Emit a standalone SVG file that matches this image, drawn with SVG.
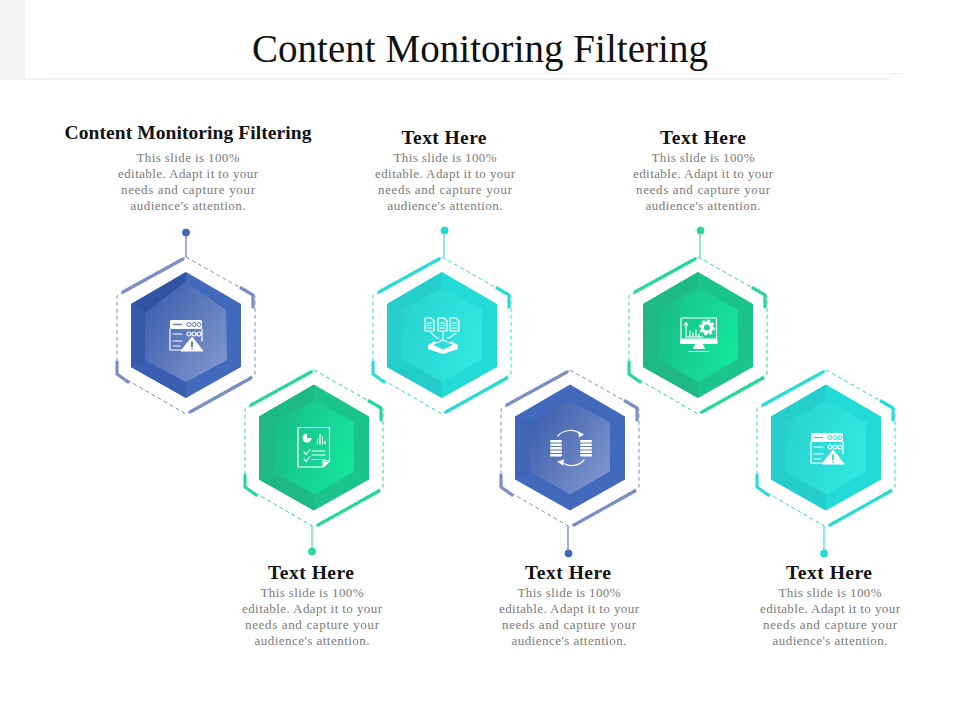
<svg xmlns="http://www.w3.org/2000/svg" width="960" height="720" viewBox="0 0 960 720">
<style>
text{font-family:"Liberation Serif","Times New Roman",serif}
.title{font-size:39px;fill:#111;text-anchor:middle}
.head{font-size:19.500px;font-weight:bold;fill:#111;text-anchor:middle}
.body{font-size:13px;fill:#7a7a7a;text-anchor:middle}
.blue{color:#7b8fc6}
.green{color:#28d79b}
.teal{color:#2bdcd6}
.pinb{stroke:#3f66b8;fill:#3f66b8}
.ping{stroke:#25d8a0;fill:#25d8a0}
.pint{stroke:#22d9d3;fill:#22d9d3}
.pin{stroke-width:1}
.i{fill:none;stroke:#fff;stroke-width:1.2;stroke-linecap:round;stroke-linejoin:round}
.f{fill:#fff}
</style>
<defs>
<linearGradient id="faceBlue" x1="0" y1="0.1" x2="1" y2="0.9"><stop offset="0" stop-color="#3a5dac"/><stop offset="1" stop-color="#8297cf"/></linearGradient>
<linearGradient id="faceGreen" x1="0" y1="0.3" x2="1" y2="0.6"><stop offset="0" stop-color="#19bc88"/><stop offset="1" stop-color="#13e69b"/></linearGradient>
<linearGradient id="faceTeal" x1="0" y1="0.3" x2="1" y2="0.6"><stop offset="0" stop-color="#28d2cf"/><stop offset="1" stop-color="#31e8e1"/></linearGradient>
<g id="ring" fill="none" stroke="currentColor">
<polygon points="0,-78 69,-39 69,39 0,79 -69,39 -69,-39" stroke-width="1" stroke-dasharray="4 3"/>
<g stroke-width="3.200" stroke-linecap="round" stroke-linejoin="round">
<path d="M-63,-43L-3,-76"/>
<path d="M55,-47L67,-40V-28"/>
<path d="M-69,27V39L-58,47"/>
<path d="M4,77L65,43"/>
</g>
</g>
<g id="bodyBlue">
<polygon points="0,-63 55,-31 55,32 0,63 -55,32 -55,-31" fill="#4169bc"/>
<polygon points="-55,-31 -40,-25 -40,24 -55,32" fill="#4066b8"/>
<polygon points="0,-47 40,-25 40,24 0,47 -40,24 -40,-25" fill="url(#faceBlue)"/>
</g>
<g id="bodyBlueA">
<polygon points="0,-63 55,-31 55,32 0,63 -55,32 -55,-31" fill="#4169bc"/>
<polygon points="0,-63 0,-53 -41,-22 -55,-31" fill="#3254a4"/>
<polygon points="-55,-31 -41,-22 -41,25 -55,32" fill="#3659a9"/>
<polygon points="-55,32 -41,25 0,47 0,63" fill="#3a5eb0"/>
<polygon points="0,-53 40,-25 41,25 0,47 -41,25 -41,-22" fill="url(#faceBlue)"/>
</g>
<g id="bodyGreen">
<polygon points="0,-63 55,-31 55,32 0,63 -55,32 -55,-31" fill="#1bc48c"/>
<polygon points="0,-63 0,-47 -40,-25 -55,-31" fill="#1cba87"/>
<polygon points="-55,-31 -40,-25 -40,24 -55,32" fill="#1bb986"/>
<polygon points="-55,32 -40,24 0,47 0,63" fill="#1db886"/>
<polygon points="0,-47 40,-25 40,24 0,47 -40,24 -40,-25" fill="url(#faceGreen)"/>
</g>
<g id="bodyTeal">
<polygon points="0,-63 55,-31 55,32 0,63 -55,32 -55,-31" fill="#22dad6"/>
<polygon points="0,-63 0,-47 -40,-25 -55,-31" fill="#23cecb"/>
<polygon points="-55,-31 -40,-25 -40,24 -55,32" fill="#25cfcc"/>
<polygon points="-55,32 -40,24 0,47 0,63" fill="#22cdca"/>
<polygon points="0,-47 40,-25 40,24 0,47 -40,24 -40,-25" fill="url(#faceTeal)"/>
</g>
<g id="iconServer">
<rect x="-16" y="-15" width="32" height="9" rx="1.5" class="f"/>
<path d="M-13,-10.500H-4" stroke="currentColor" stroke-width="1.300"/>
<g fill="none" stroke="currentColor" stroke-width="1"><circle cx="3" cy="-10.500" r="2"/><circle cx="8" cy="-10.500" r="2"/><circle cx="13" cy="-10.500" r="2"/></g>
<path class="i" d="M16,6V-6M-16,-6V15H-3M-13,-1H-4M-13,6H-4M-13,11H-6"/>
<g class="i"><circle cx="3" cy="-1" r="2"/><circle cx="8" cy="-1" r="2"/><circle cx="13" cy="-1" r="2"/></g>
<polygon points="6,2 -5,16 17,16" class="f" stroke="#fff" stroke-linejoin="round"/>
<path d="M6,6.500V12M6,13.500V14.500" stroke="currentColor" stroke-width="2"/>
</g>
</defs>

<g id="header">
<rect x="0" y="0" width="25" height="80" fill="#f2f2f2"/>
<path d="M25,79H890" stroke="#eeeeee" stroke-width="1.500"/>
<path d="M45,73.500H903" stroke="#f1f1f1" stroke-width="1"/>
<text class="title" x="480" y="62" textLength="456" lengthAdjust="spacing">Content Monitoring Filtering</text>
</g>

<g id="connectors">
<g class="pinb pin"><line x1="186" y1="232" x2="186" y2="257"/><circle cx="186" cy="232.500" r="3.500"/></g>
<g class="pint pin"><line x1="444" y1="230" x2="444" y2="257"/><circle cx="444.500" cy="230.500" r="3.500"/></g>
<g class="ping pin"><line x1="700" y1="230" x2="700" y2="257"/><circle cx="700.500" cy="230.500" r="3.500"/></g>
<g class="ping pin"><line x1="312" y1="526" x2="312" y2="551"/><circle cx="312" cy="551.500" r="3.500"/></g>
<g class="pinb pin"><line x1="568" y1="526" x2="568" y2="553"/><circle cx="568.500" cy="553.500" r="3.500"/></g>
<g class="pint pin"><line x1="824" y1="526" x2="824" y2="553"/><circle cx="824" cy="553.500" r="3.500"/></g>
</g>

<g id="node1">
<use href="#ring" x="186" y="335" class="blue"/>
<use href="#bodyBlueA" x="186" y="335"/>
<use href="#iconServer" x="186" y="335" style="color:#5d79bc"/>
<text class="head" x="188" y="139" textLength="247" lengthAdjust="spacing">Content Monitoring Filtering</text>
<text class="body" x="188" y="162" textLength="103">This slide is 100%</text>
<text class="body" x="188" y="178" textLength="140">editable.  Adapt  it to your</text>
<text class="body" x="188" y="194" textLength="134">needs and  capture  your</text>
<text class="body" x="188" y="210" textLength="115">audience's  attention.</text>
</g>

<g id="node2">
<use href="#ring" x="314" y="448" class="green"/>
<use href="#bodyGreen" x="314" y="447.500"/>
<g id="iconReport">
<path class="i" d="M298,427.500H329.500V461L323,467H298ZM323,467V461H329.500"/>
<path d="M324,467V462H329Z" class="f"/>
<path d="M307,433.500A4.500,4.500 0 1 0 311.500,438H307Z" class="f"/>
<path class="i" d="M317.500,444V439M320,444V434M322.500,444V437M325,444V441"/>
<path class="i" stroke-width="1.500" d="M304,452L306,454.500L310,449.500M304,459L306,461.500L310,456.500M312,451H325M312,455H325M312,459.500H325"/>
</g>
<text class="head" x="311" y="579" textLength="86" lengthAdjust="spacing">Text Here</text>
<text class="body" x="312" y="597" textLength="103">This slide is 100%</text>
<text class="body" x="312" y="613" textLength="140">editable.  Adapt  it to your</text>
<text class="body" x="312" y="629" textLength="134">needs and  capture  your</text>
<text class="body" x="312" y="645" textLength="115">audience's  attention.</text>
</g>

<g id="node3">
<use href="#ring" x="442" y="335" class="teal"/>
<use href="#bodyTeal" x="442" y="335"/>
<g id="iconDocs">
<path class="i" d="M425,318H431L434,321V331H425ZM427,323H432M427,325.500H432M427,328H432"/>
<path class="i" d="M438,318H444L447,321V331H438ZM440,323H445M440,325.500H445M440,328H445"/>
<path class="i" d="M450,318H456L459,321V331H450ZM452,323H457M452,325.500H457M452,328H457"/>
<path class="i" d="M431,333L437,338H439M443,332V343M440.500,341L443,343.500L445.500,341M456,333L449,338H447"/>
<path class="f" d="M428,345L434,341.500L443,346L452,341.500L458,345V349L443,354L428,349Z"/>
<path d="M432,345L443,340L454,345L443,350Z" fill="#2fdcd7" stroke="#fff" stroke-width="1"/>
</g>
<text class="head" x="444" y="144" textLength="85" lengthAdjust="spacing">Text Here</text>
<text class="body" x="445" y="162" textLength="103">This slide is 100%</text>
<text class="body" x="445" y="178" textLength="140">editable.  Adapt  it to your</text>
<text class="body" x="445" y="194" textLength="134">needs and  capture  your</text>
<text class="body" x="445" y="210" textLength="115">audience's  attention.</text>
</g>

<g id="node4">
<use href="#ring" x="570" y="448" class="blue"/>
<use href="#bodyBlue" x="570" y="447.500"/>
<g id="iconSync">
<g class="f">
<rect x="550" y="440" width="12" height="2.500" rx="1.200"/><rect x="550" y="443.500" width="12" height="2.500" rx="1.200"/><rect x="550" y="447" width="12" height="2.500" rx="1.200"/><rect x="550" y="450.500" width="12" height="2.500" rx="1.200"/><rect x="550" y="454" width="12" height="2.500" rx="1.200"/>
<rect x="580" y="440" width="12" height="2.500" rx="1.200"/><rect x="580" y="443.500" width="12" height="2.500" rx="1.200"/><rect x="580" y="447" width="12" height="2.500" rx="1.200"/><rect x="580" y="450.500" width="12" height="2.500" rx="1.200"/><rect x="580" y="454" width="12" height="2.500" rx="1.200"/>
</g>
<path class="i" stroke-width="1.600" d="M558,436C564,429 574,429 581,434"/>
<path class="f" d="M578,431.500L584,434.500L579,437.500Z"/>
<path class="i" stroke-width="1.600" d="M584,460C578,467 568,467 561,462"/>
<path class="f" d="M564,459.500L557,461.500L563,465.500Z"/>
</g>
<text class="head" x="568" y="579" textLength="86" lengthAdjust="spacing">Text Here</text>
<text class="body" x="569" y="597" textLength="103">This slide is 100%</text>
<text class="body" x="569" y="613" textLength="140">editable.  Adapt  it to your</text>
<text class="body" x="569" y="629" textLength="134">needs and  capture  your</text>
<text class="body" x="569" y="645" textLength="115">audience's  attention.</text>
</g>

<g id="node5">
<use href="#ring" x="698" y="335" class="green"/>
<use href="#bodyGreen" x="698" y="335"/>
<g id="iconMonitor">
<path class="i" d="M681,318H716.500V339H681Z"/>
<rect x="680" y="339" width="37.500" height="5" rx="1" class="f"/>
<path class="f" d="M695,344H703L705,349H693Z"/>
<path class="i" d="M689,351.500H709"/>
<path class="i" d="M686,323V337H703M684.300,325L686,322.500L687.700,325M690,337V331M693,337V333M696,337V330M699,337V334"/>
<circle cx="707" cy="327.500" r="4.600" fill="none" stroke="#fff" stroke-width="3.200"/>
<circle cx="707" cy="327.500" r="6.800" fill="none" stroke="#fff" stroke-width="2.400" stroke-dasharray="2.700 2.640"/>
</g>
<text class="head" x="703" y="144" textLength="86" lengthAdjust="spacing">Text Here</text>
<text class="body" x="703" y="162" textLength="103">This slide is 100%</text>
<text class="body" x="703" y="178" textLength="140">editable.  Adapt  it to your</text>
<text class="body" x="703" y="194" textLength="134">needs and  capture  your</text>
<text class="body" x="703" y="210" textLength="115">audience's  attention.</text>
</g>

<g id="node6">
<use href="#ring" x="826" y="448" class="teal"/>
<use href="#bodyTeal" x="826" y="447.500"/>
<use href="#iconServer" x="827" y="448" style="color:#2fdcd7"/>
<text class="head" x="829" y="579" textLength="86" lengthAdjust="spacing">Text Here</text>
<text class="body" x="830" y="597" textLength="103">This slide is 100%</text>
<text class="body" x="830" y="613" textLength="140">editable.  Adapt  it to your</text>
<text class="body" x="830" y="629" textLength="134">needs and  capture  your</text>
<text class="body" x="830" y="645" textLength="115">audience's  attention.</text>
</g>
</svg>
